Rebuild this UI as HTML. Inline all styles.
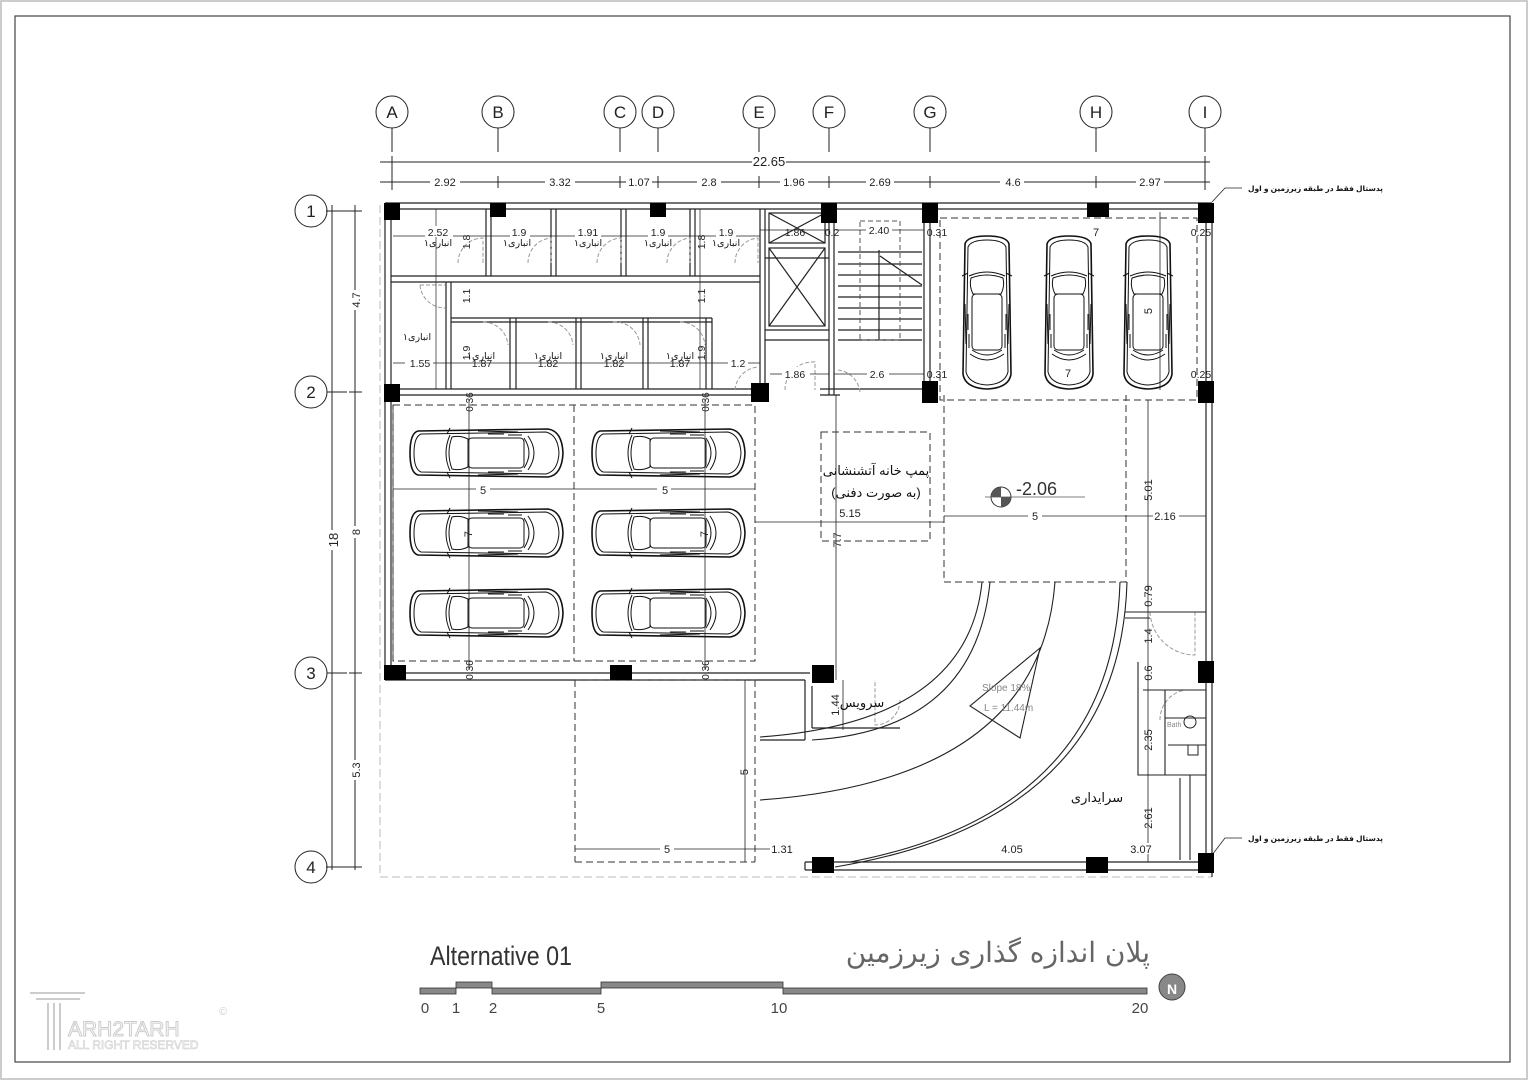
<!DOCTYPE html>
<html><head><meta charset="utf-8"><style>
html,body{margin:0;padding:0;background:#fff;}
svg{display:block;}
text{font-family:"Liberation Sans","DejaVu Sans",sans-serif;}
.fa{font-family:"DejaVu Sans","Liberation Sans",sans-serif;}
</style></head><body>
<svg width="1528" height="1080" viewBox="0 0 1528 1080" xmlns="http://www.w3.org/2000/svg">
<defs>
<g id="carH" fill="none" stroke="#111" stroke-width="1">
 <path d="M10,6 Q2,8 2,28 Q2,48 10,50 L140,52 Q154,50 155,28 Q154,6 140,4 Z" stroke-width="1.6"/>
 <path d="M13,9 Q6,12 6,28 Q6,44 13,47 L138,49 Q150,46 151,28 Q150,10 138,7 Z"/>
 <path d="M42,10 Q34,28 42,46"/>
 <path d="M44,12 Q52,10 60,14 L60,42 Q52,46 44,44 Q38,28 44,12Z"/>
 <rect x="60" y="13" width="56" height="30" rx="4"/>
 <path d="M116,13 Q126,28 116,43 M120,11 Q132,28 120,45"/>
 <path d="M70,6 L110,7 M70,50 L110,49 M42,3 l-3,6 M42,53 l-3,-6"/>
 <path d="M80,9 h16 M80,47 h16 M100,10 h14 M100,46 h14"/>
</g>
<g id="carV"><use href="#carH" transform="translate(56,0) rotate(90)"/></g>
</defs>

<rect x="1" y="1" width="1526" height="1078" fill="none" stroke="#bbb" stroke-width="1.5"/>
<rect x="15" y="16" width="1495" height="1046" fill="none" stroke="#444" stroke-width="1.2"/>

<g stroke="#222" stroke-width="1" fill="#fff">
<circle cx="392" cy="112" r="16"/><circle cx="498" cy="112" r="16"/><circle cx="620" cy="112" r="16"/><circle cx="658" cy="112" r="16"/><circle cx="759" cy="112" r="16"/><circle cx="829" cy="112" r="16"/><circle cx="930" cy="112" r="16"/><circle cx="1096" cy="112" r="16"/><circle cx="1205" cy="112" r="16"/>
<circle cx="311" cy="211" r="16"/><circle cx="311" cy="392" r="16"/><circle cx="311" cy="673" r="16"/><circle cx="311" cy="867" r="16"/>
</g>
<g font-size="17" fill="#222" text-anchor="middle">
<text x="392" y="118">A</text><text x="498" y="118">B</text><text x="620" y="118">C</text><text x="658" y="118">D</text><text x="759" y="118">E</text><text x="829" y="118">F</text><text x="930" y="118">G</text><text x="1096" y="118">H</text><text x="1205" y="118">I</text>
<text x="311" y="217">1</text><text x="311" y="398">2</text><text x="311" y="679">3</text><text x="311" y="873">4</text>
</g>
<g stroke="#222" stroke-width="1">
<path d="M392,128V152 M498,128V152 M620,128V152 M658,128V152 M759,128V152 M829,128V152 M930,128V152 M1096,128V152 M1205,128V152"/>
<path d="M327,211H347 M327,392H347 M327,673H347 M327,867H347"/>
<path d="M380,162H1210 M380,182H1210"/>
<path d="M392,156V190 M1205,156V190 M498,176V188 M620,176V188 M658,176V188 M759,176V188 M829,176V188 M930,176V188 M1096,176V188"/>
<path d="M332,205V870 M355,205V870 M326,211H362 M326,867H362 M349,392H362 M349,673H362"/>
</g>
<g font-size="11" fill="#222" text-anchor="middle">
<rect x="752" y="155" width="34" height="13" fill="#fff"/><text x="769" y="166" font-size="13">22.65</text>
<rect x="430" y="176" width="30" height="12" fill="#fff"/><text x="445" y="186">2.92</text>
<rect x="545" y="176" width="30" height="12" fill="#fff"/><text x="560" y="186">3.32</text>
<rect x="626" y="176" width="26" height="12" fill="#fff"/><text x="639" y="186">1.07</text>
<rect x="697" y="176" width="24" height="12" fill="#fff"/><text x="709" y="186">2.8</text>
<rect x="780" y="176" width="28" height="12" fill="#fff"/><text x="794" y="186">1.96</text>
<rect x="866" y="176" width="28" height="12" fill="#fff"/><text x="880" y="186">2.69</text>
<rect x="1000" y="176" width="24" height="12" fill="#fff"/><text x="1013" y="186">4.6</text>
<rect x="1136" y="176" width="28" height="12" fill="#fff"/><text x="1150" y="186">2.97</text>
<g transform="translate(336,540) rotate(-90)"><rect x="-10" y="-10" width="20" height="14" fill="#fff"/><text x="0" y="2" font-size="13">18</text></g>
<g transform="translate(358,300) rotate(-90)"><rect x="-10" y="-8" width="20" height="12" fill="#fff"/><text x="0" y="2">4.7</text></g>
<g transform="translate(358,532) rotate(-90)"><rect x="-6" y="-8" width="12" height="12" fill="#fff"/><text x="0" y="2">8</text></g>
<g transform="translate(358,770) rotate(-90)"><rect x="-10" y="-8" width="20" height="12" fill="#fff"/><text x="0" y="2">5.3</text></g>
</g>

<g stroke="#222" stroke-width="0.8" fill="none"><path d="M1212,202 L1225,188 H1242"/><path d="M1212,855 L1225,838 H1242"/></g>
<g class="fa" font-size="7.5" fill="#111" font-weight="bold"><text x="1248" y="191">پدستال فقط در طبقه زیرزمین و اول</text><text x="1248" y="841">پدستال فقط در طبقه زیرزمین و اول</text></g>

<path d="M380,205 V877 H1212" fill="none" stroke="#bbb" stroke-width="1" stroke-dasharray="8,4"/>

<g fill="none" stroke="#222" stroke-width="1.2">
<path d="M385,203H1212 M391,209H1206"/>
<path d="M385,203V680 M391,209V673"/>
<path d="M1212,203V877 M1206,209V870"/>
<path d="M391,389H760 M391,395H760"/>
<path d="M820,389H930 M820,395H840"/>
<path d="M391,673H810 M385,680H805"/>
<path d="M805,680V740 M812,686V728 M812,728H900 M805,740H760"/>
<path d="M805,862H1206 M805,870H1212 M805,862V870"/>
<path d="M391,276H760 M391,282H760"/>
<path d="M486,209V276 M491,209V276 M551,209V276 M556,209V276 M621,209V276 M626,209V276 M690,209V276 M695,209V276"/>
<path d="M446,282V389 M451,282V389 M510,318V389 M516,318V389 M576,318V389 M581,318V389 M643,318V389 M648,318V389 M706,318V389 M712,318V389"/>
<path d="M451,318H712 M451,322H712"/>
<path d="M760,209V395 M765,209V395 M829,209V395 M834,209V395"/>
<path d="M765,258H829 M765,330H829 M765,340H829"/>
<rect x="769" y="248" width="56" height="78"/><path d="M769,248L825,326 M825,248L769,326"/>
<rect x="769" y="213" width="56" height="30"/><path d="M769,213L825,243 M825,213L769,243"/>
<path d="M924,209V395 M930,209V395"/>
<path d="M838,252H922 M838,264H922 M838,275H922 M838,286H922 M838,297H922 M838,308H922 M838,319H922 M838,330H922 M838,340H922"/>
<path d="M879,250V340 M880,256 L922,285"/>
</g>
<g fill="none" stroke="#555" stroke-width="1" stroke-dasharray="5,3">
<path d="M860,221H900V340H860Z"/>
</g>
<g fill="none" stroke="#999" stroke-width="1" stroke-dasharray="4,2">
<path d="M458,263 A25,25 0 0 1 483,238 V263"/><path d="M528,263 A25,25 0 0 1 551,238 V263"/><path d="M597,263 A25,25 0 0 1 621,238 V263"/><path d="M667,263 A25,25 0 0 1 690,238 V263"/><path d="M735,263 A25,25 0 0 1 758,238 V263"/>
<path d="M420,285 A25,25 0 0 0 445,308 M420,285 H445"/>
<path d="M483,322 A25,25 0 0 1 508,345 V345"/><path d="M548,322 A25,25 0 0 1 573,345"/><path d="M613,322 A25,25 0 0 1 640,345"/><path d="M680,322 A25,25 0 0 1 705,345"/>
<path d="M735,390 A25,25 0 0 1 758,367"/><path d="M785,390 A28,28 0 0 1 815,362 V390"/><path d="M838,370 A25,25 0 0 1 860,392"/>
<path d="M900,700 A25,25 0 0 1 875,725 V680"/><path d="M1150,612 A45,45 0 0 0 1195,655 V612"/>
<path d="M1160,720 A30,30 0 0 1 1185,690"/>
</g>
<g stroke="#222" stroke-width="0.7"><path d="M393,236H760 M393,363H760 M770,374H829 M834,374H924 M436,209V389 M700,209V389 M836,230H924 M760,230H830"/></g>
<g font-size="10.5" fill="#222" text-anchor="middle">
<rect x="425" y="226" width="28" height="11" fill="#fff"/><text x="438" y="236">2.52</text>
<rect x="510" y="226" width="20" height="11" fill="#fff"/><text x="519" y="236">1.9</text>
<rect x="575" y="226" width="26" height="11" fill="#fff"/><text x="588" y="236">1.91</text>
<rect x="648" y="226" width="20" height="11" fill="#fff"/><text x="658" y="236">1.9</text>
<rect x="716" y="226" width="20" height="11" fill="#fff"/><text x="726" y="236">1.9</text>
<text x="795" y="236">1.86</text><text x="832" y="236">0.2</text><rect x="866" y="224" width="26" height="11" fill="#fff"/><text x="879" y="234">2.40</text><text x="937" y="236">0.31</text><text x="1201" y="236">0.25</text>
<rect x="405" y="356" width="28" height="11" fill="#fff"/><text x="420" y="367">1.55</text>
<text x="482" y="367">1.87</text><text x="548" y="367">1.82</text><text x="614" y="367">1.82</text><text x="680" y="367">1.87</text><rect x="728" y="357" width="20" height="11" fill="#fff"/><text x="738" y="367">1.2</text>
<rect x="782" y="367" width="28" height="11" fill="#fff"/><text x="795" y="378">1.86</text><rect x="867" y="367" width="22" height="11" fill="#fff"/><text x="877" y="378">2.6</text><text x="937" y="378">0.31</text><text x="1201" y="378">0.25</text>
<text transform="translate(470,242) rotate(-90)">1.8</text><text transform="translate(705,242) rotate(-90)">1.8</text>
<text transform="translate(470,296) rotate(-90)">1.1</text><text transform="translate(705,296) rotate(-90)">1.1</text>
<text transform="translate(470,353) rotate(-90)">1.9</text><text transform="translate(705,353) rotate(-90)">1.9</text>
</g>
<g class="fa" font-size="9.5" fill="#111" text-anchor="middle">
<text x="438" y="246">انباری۱</text><text x="517" y="246">انباری۱</text><text x="588" y="246">انباری۱</text><text x="658" y="246">انباری۱</text><text x="726" y="246">انباری۱</text>
<text x="417" y="340">انباری۱</text><text x="481" y="359">انباری۱</text><text x="548" y="359">انباری۱</text><text x="614" y="359">انباری۱</text><text x="680" y="359">انباری۱</text>
</g>

<g fill="none" stroke="#333" stroke-width="1" stroke-dasharray="7,4">
<path d="M393,405H755V661H393Z M574,405V661"/>
<path d="M575,680V862 M575,862H755 M755,680V862 M575,680H755"/>
<path d="M944,395V582H1126V395 M940,218H1197V400H940Z"/>
<path d="M821,432H930V541H821Z"/>
</g>
<g stroke="#222" stroke-width="0.8" fill="none">
<path d="M393,489H755 M393,405V661"/>
<path d="M469,400V670 M705,400V670"/>
<path d="M755,522H944 M944,516H1206 M836,395V680 M1148,400V862"/>
<path d="M575,849H790 M745,680V862"/>
<path d="M843,680V730"/>
<path d="M1160,212V390"/>
</g>
<g font-size="11" fill="#222" text-anchor="middle">
<rect x="476" y="484" width="14" height="11" fill="#fff"/><text x="483" y="494">5</text>
<rect x="657" y="484" width="14" height="11" fill="#fff"/><text x="665" y="494">5</text>
<text transform="translate(472,534) rotate(-90)">7</text><text transform="translate(708,534) rotate(-90)">7</text>
<text transform="translate(473,670) rotate(-90)" font-size="10">0.36</text><text transform="translate(709,670) rotate(-90)" font-size="10">0.36</text>
<text transform="translate(473,402) rotate(-90)" font-size="10">0.36</text><text transform="translate(709,402) rotate(-90)" font-size="10">0.36</text>
<text x="850" y="517">5.15</text><text transform="translate(841,540) rotate(-90)">7.7</text>
<rect x="1028" y="510" width="14" height="11" fill="#fff"/><text x="1035" y="520">5</text>
<rect x="1153" y="510" width="26" height="11" fill="#fff"/><text x="1165" y="520">2.16</text>
<text transform="translate(1152,490) rotate(-90)">5.01</text>
<text transform="translate(1152,311) rotate(-90)">5</text>
<text x="1096" y="236">7</text><text x="1068" y="377">7</text>
<text transform="translate(1152,596) rotate(-90)">0.79</text><text transform="translate(1152,636) rotate(-90)">1.4</text><text transform="translate(1152,673) rotate(-90)">0.6</text><text transform="translate(1152,740) rotate(-90)">2.35</text><text transform="translate(1152,818) rotate(-90)">2.61</text>
<rect x="998" y="843" width="28" height="11" fill="#fff"/><text x="1012" y="853">4.05</text>
<rect x="1128" y="843" width="26" height="11" fill="#fff"/><text x="1141" y="853">3.07</text>
<rect x="660" y="843" width="14" height="11" fill="#fff"/><text x="667" y="853">5</text>
<rect x="770" y="843" width="24" height="11" fill="#fff"/><text x="782" y="853">1.31</text>
<text transform="translate(748,772) rotate(-90)">5</text>
<text transform="translate(839,705) rotate(-90)">1.44</text>
</g>
<g class="fa" font-size="13" fill="#111" text-anchor="middle">
<text x="876" y="475">پمپ خانه آتشنشانی</text><text x="876" y="497">(به صورت دفنی)</text>
<text x="862" y="707">سرویس</text><text x="1097" y="802">سرایداری</text>
</g>

<g>
<circle cx="1001" cy="497" r="10" fill="#fff" stroke="#333"/>
<path d="M1001,497V487A10,10 0 0 0 991,497Z M1001,497V507A10,10 0 0 0 1011,497Z" fill="#555"/>
<path d="M985,497H1085" stroke="#555" stroke-width="0.8"/>
<text x="1016" y="495" font-size="18" fill="#333">-2.06</text>
</g>

<use href="#carH" x="408" y="425"/><use href="#carH" x="590" y="425"/>
<use href="#carH" x="408" y="505"/><use href="#carH" x="590" y="505"/>
<use href="#carH" x="408" y="585"/><use href="#carH" x="590" y="585"/>
<use href="#carV" x="959" y="234"/><use href="#carV" x="1041" y="234"/><use href="#carV" x="1120" y="234"/>

<g fill="none" stroke="#222" stroke-width="1.1">
<path d="M1127,582 Q1120,820 835,867"/>
<path d="M1120,582 Q1113,812 850,862"/>
<path d="M990,582 Q975,730 812,740"/>
<path d="M982,582 Q968,722 760,737"/>
<path d="M1055,582 Q1040,780 760,800"/>
<path d="M1040,648 L970,706 L1020,738 Z"/>
<path d="M1125,612H1206 M1125,618H1150 M1138,662V775H1206 M1143,690H1206 M1165,690V775 M1180,778V860 M1190,860V775 M1165,718H1206 M1168,745L1206,745"/>
</g>
<g fill="#888" font-size="10"><text x="982" y="691">Slope 18%</text><text x="984" y="711">L = 11.44m</text><text x="1167" y="727" font-size="7">Bath</text></g>
<circle cx="1190" cy="722" r="6" fill="none" stroke="#222"/>
<rect x="1188" y="745" width="10" height="10" fill="none" stroke="#222"/>

<g fill="#000">
<rect x="384" y="203" width="16" height="17"/><rect x="490" y="203" width="16" height="14"/><rect x="650" y="203" width="16" height="14"/><rect x="821" y="203" width="16" height="20"/><rect x="922" y="203" width="16" height="20"/><rect x="1087" y="203" width="22" height="14"/><rect x="1198" y="203" width="16" height="20"/>
<rect x="384" y="384" width="16" height="18"/><rect x="751" y="383" width="18" height="19"/><rect x="922" y="381" width="16" height="22"/><rect x="1198" y="381" width="16" height="22"/>
<rect x="384" y="665" width="22" height="15"/><rect x="610" y="665" width="22" height="15"/><rect x="812" y="665" width="22" height="18"/><rect x="1198" y="661" width="16" height="22"/>
<rect x="812" y="857" width="22" height="16"/><rect x="1086" y="857" width="22" height="16"/><rect x="1198" y="853" width="16" height="20"/>
</g>

<text x="430" y="965" font-size="27" fill="#333" transform="translate(430,0) scale(0.86,1) translate(-430,0)">Alternative 01</text>
<text class="fa" x="1150" y="962" font-size="28" fill="#666" text-anchor="end" style="font-weight:300;letter-spacing:2px">پلان اندازه گذاری زیرزمین</text>
<g fill="#888" stroke="#333" stroke-width="0.8">
<rect x="420" y="988" width="36" height="6"/><rect x="456" y="982" width="36" height="6"/><rect x="492" y="988" width="109" height="6"/><rect x="601" y="982" width="182" height="6"/><rect x="783" y="988" width="364" height="6"/>
</g>
<g font-size="15" fill="#444" text-anchor="middle"><text x="425" y="1013">0</text><text x="456" y="1013">1</text><text x="493" y="1013">2</text><text x="601" y="1013">5</text><text x="779" y="1013">10</text><text x="1140" y="1013">20</text></g>
<circle cx="1172" cy="987" r="13" fill="#888" stroke="#444"/><text x="1172" y="994" font-size="14" fill="#fff" text-anchor="middle" font-weight="bold">N</text>
<g fill="none" stroke="#ccc" stroke-width="2">
<path d="M30,993H85 M36,999H80 M48,1003V1050 M54,1003V1050 M60,1003V1050"/>
</g>
<text x="68" y="1036" font-size="21" fill="#fff" stroke="#ccc" stroke-width="1">ARH2TARH</text>
<text x="68" y="1049" font-size="12" fill="#fff" stroke="#ccc" stroke-width="0.6">ALL RIGHT RESERVED</text>
<text x="219" y="1015" font-size="11" fill="#ccc">©</text>
</svg>
</body></html>
